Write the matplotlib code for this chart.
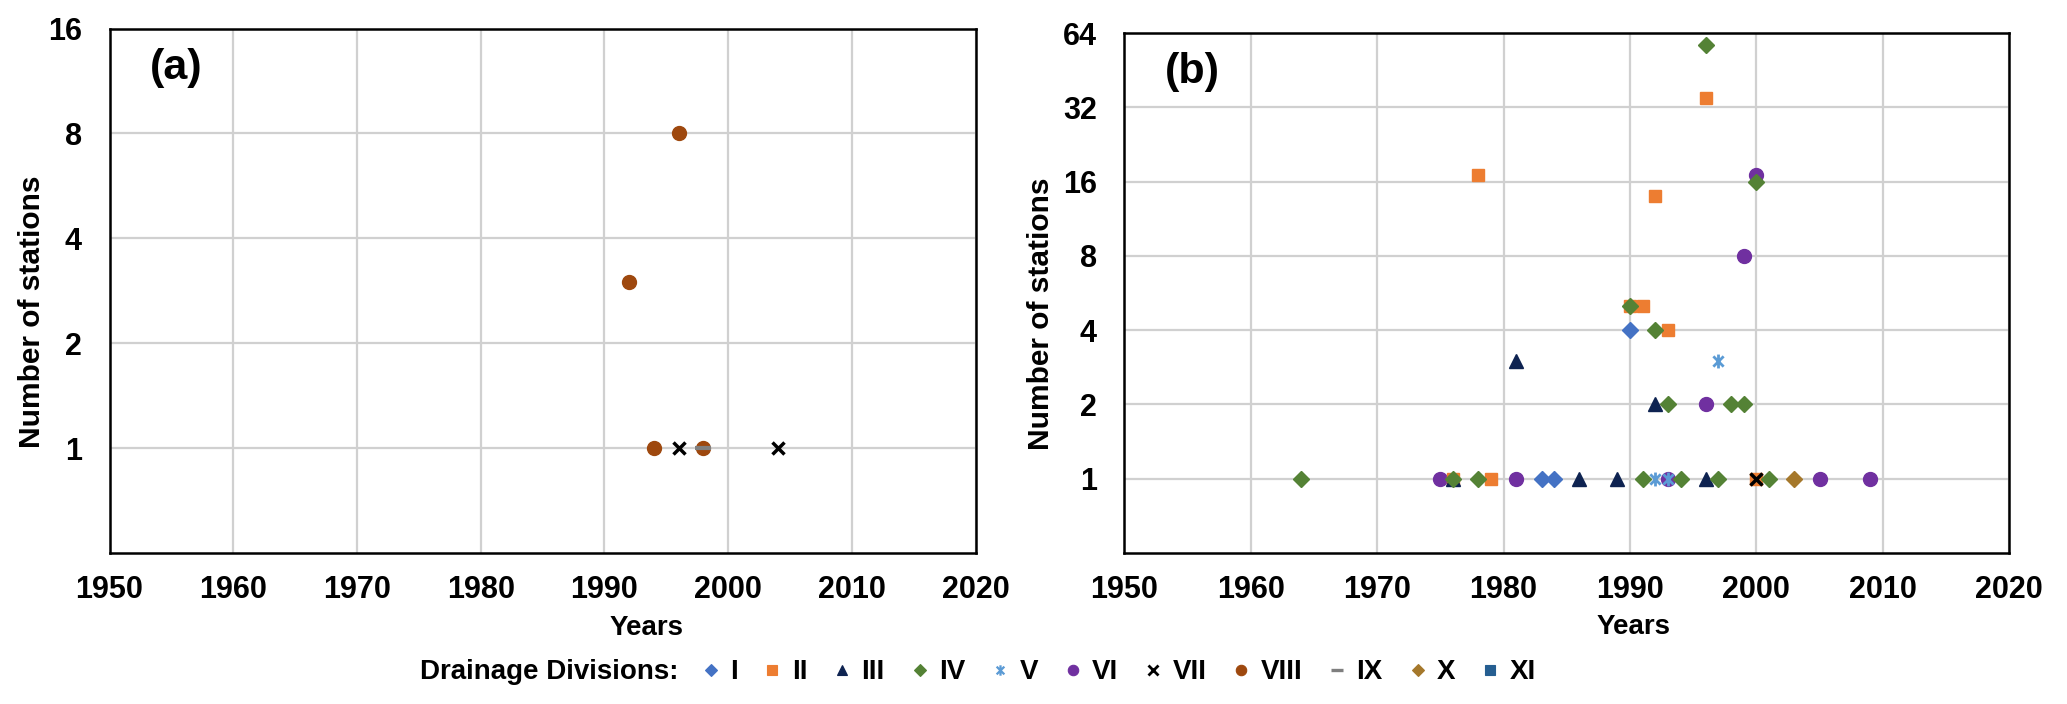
import matplotlib.pyplot as plt
from matplotlib.path import Path
from matplotlib.lines import Line2D

plt.rcParams['font.family'] = ['Liberation Sans', 'DejaVu Sans']
plt.rcParams['font.weight'] = 'bold'

# ---- data: (year, number of stations) per drainage division ----
# panel (a)
a_VII_years = [1996, 2004]
a_VII_counts = [1, 1]
a_VIII_years = [1992, 1994, 1996, 1998]
a_VIII_counts = [3, 1, 8, 1]
a_IX_years = [1998]
a_IX_counts = [1]

# panel (b)
b_I_years = [1983, 1984, 1990]
b_I_counts = [1, 1, 4]
b_II_years = [1976, 1978, 1979, 1990, 1991, 1992, 1993, 1996, 2000]
b_II_counts = [1, 17, 1, 5, 5, 14, 4, 35, 1]
b_III_years = [1976, 1981, 1986, 1989, 1992, 1996]
b_III_counts = [1, 3, 1, 1, 2, 1]
b_IV_years = [1964, 1976, 1978, 1990, 1991, 1992, 1993, 1994, 1996, 1997, 1998, 1999, 2000, 2001]
b_IV_counts = [1, 1, 1, 5, 1, 4, 2, 1, 57, 1, 2, 2, 16, 1]
b_V_years = [1992, 1993, 1997]
b_V_counts = [1, 1, 3]
b_VI_years = [1975, 1981, 1993, 1996, 1999, 2000, 2005, 2009]
b_VI_counts = [1, 1, 1, 2, 8, 17, 1, 1]
b_VII_years = [2000]
b_VII_counts = [1]
b_X_years = [2003]
b_X_counts = [1]

divisions = ["I", "II", "III", "IV", "V", "VI", "VII", "VIII", "IX", "X", "XI"]

# Excel style asterisk marker (x plus vertical bar)
star = Path([(-1, -1), (1, 1), (-1, 1), (1, -1), (0, -1.35), (0, 1.35)],
            [Path.MOVETO, Path.LINETO, Path.MOVETO, Path.LINETO, Path.MOVETO, Path.LINETO])

styles = {
    "I": dict(marker="D", color="#4472C4", ms=8),
    "II": dict(marker="s", color="#ED7D31", ms=9),
    "III": dict(marker="^", color="#0E2351", ms=10),
    "IV": dict(marker="D", color="#548235", ms=8),
    "V": dict(marker=star, color="#5B9BD5", ms=10, mfc="none", mew=2),
    "VI": dict(marker="o", color="#7030A0", ms=10),
    "VII": dict(marker="x", color="black", ms=9, mew=2.5),
    "VIII": dict(marker="o", color="#9E480E", ms=10),
    "IX": dict(marker="_", color="#7F7F7F", ms=11, mew=3),
    "X": dict(marker="D", color="#A5782B", ms=8),
    "XI": dict(marker="s", color="#255E91", ms=9),
}


def draw(ax, name, xs, ys):
    st = styles[name]
    ax.plot(xs, ys, linestyle="none", marker=st["marker"], markersize=st["ms"],
            color=st["color"], markerfacecolor=st.get("mfc", st["color"]),
            markeredgewidth=st.get("mew", 1), zorder=3)


def style_axes(ax, top, label, xlab_x, ylab_x):
    ax.set_yscale("log", base=2)
    ax.set_ylim(0.5, top)
    ticks = [2 ** i for i in range(0, 7) if 2 ** i <= top]
    ax.set_yticks(ticks)
    ax.set_yticklabels([str(t) for t in ticks])
    ax.minorticks_off()
    ax.set_xlim(1950, 2020)
    ax.set_xticks(range(1950, 2021, 10))
    ax.grid(True, color="#D0D0D0", linewidth=1.6)
    ax.set_axisbelow(True)
    ax.tick_params(axis="both", length=0, labelsize=22)
    ax.tick_params(axis="x", pad=16)
    ax.tick_params(axis="y", pad=20)
    for sp in ax.spines.values():
        sp.set_linewidth(1.8)
        sp.set_color("black")
    ax.text(0.046, 0.925, label, transform=ax.transAxes, fontsize=31,
            fontweight="bold", va="center", ha="left")
    ax.text(xlab_x, -0.143, "Years", transform=ax.transAxes, fontsize=20,
            fontweight="bold", ha="center", va="center")
    ax.set_ylabel("Number of stations", fontsize=21.5, fontweight="bold")
    ax.yaxis.set_label_coords(ylab_x, 0.46)


fig = plt.figure(figsize=(20.67, 7.04), dpi=100)
ax_a = fig.add_axes([0.053, 0.2145, 0.419, 0.745])
ax_b = fig.add_axes([0.544, 0.2145, 0.428, 0.7385])

draw(ax_a, "VIII", a_VIII_years, a_VIII_counts)
draw(ax_a, "VII", a_VII_years, a_VII_counts)
draw(ax_a, "IX", a_IX_years, a_IX_counts)

draw(ax_b, "VI", b_VI_years, b_VI_counts)
draw(ax_b, "II", b_II_years, b_II_counts)
draw(ax_b, "III", b_III_years, b_III_counts)
draw(ax_b, "I", b_I_years, b_I_counts)
draw(ax_b, "IV", b_IV_years, b_IV_counts)
draw(ax_b, "V", b_V_years, b_V_counts)
draw(ax_b, "X", b_X_years, b_X_counts)
draw(ax_b, "VII", b_VII_years, b_VII_counts)

style_axes(ax_a, 16, "(a)", 0.62, -0.073)
style_axes(ax_b, 64, "(b)", 0.575, -0.078)

# legend row
handles = []
for d in divisions:
    st = styles[d]
    handles.append(Line2D([], [], linestyle="none", marker=st["marker"],
                          markersize=st["ms"] * 0.75, color=st["color"],
                          markerfacecolor=st.get("mfc", st["color"]),
                          markeredgewidth=st.get("mew", 1) * 0.8))
fig.text(0.328, 0.045, "Drainage Divisions:", fontsize=20, fontweight="bold",
         ha="right", va="center")
fig.legend(handles, divisions, loc="center left", bbox_to_anchor=(0.333, 0.045),
           ncol=11, frameon=False, fontsize=20, handlelength=0.8,
           handletextpad=0.3, columnspacing=0.85, borderaxespad=0)

fig.savefig("out.png", dpi=100)
